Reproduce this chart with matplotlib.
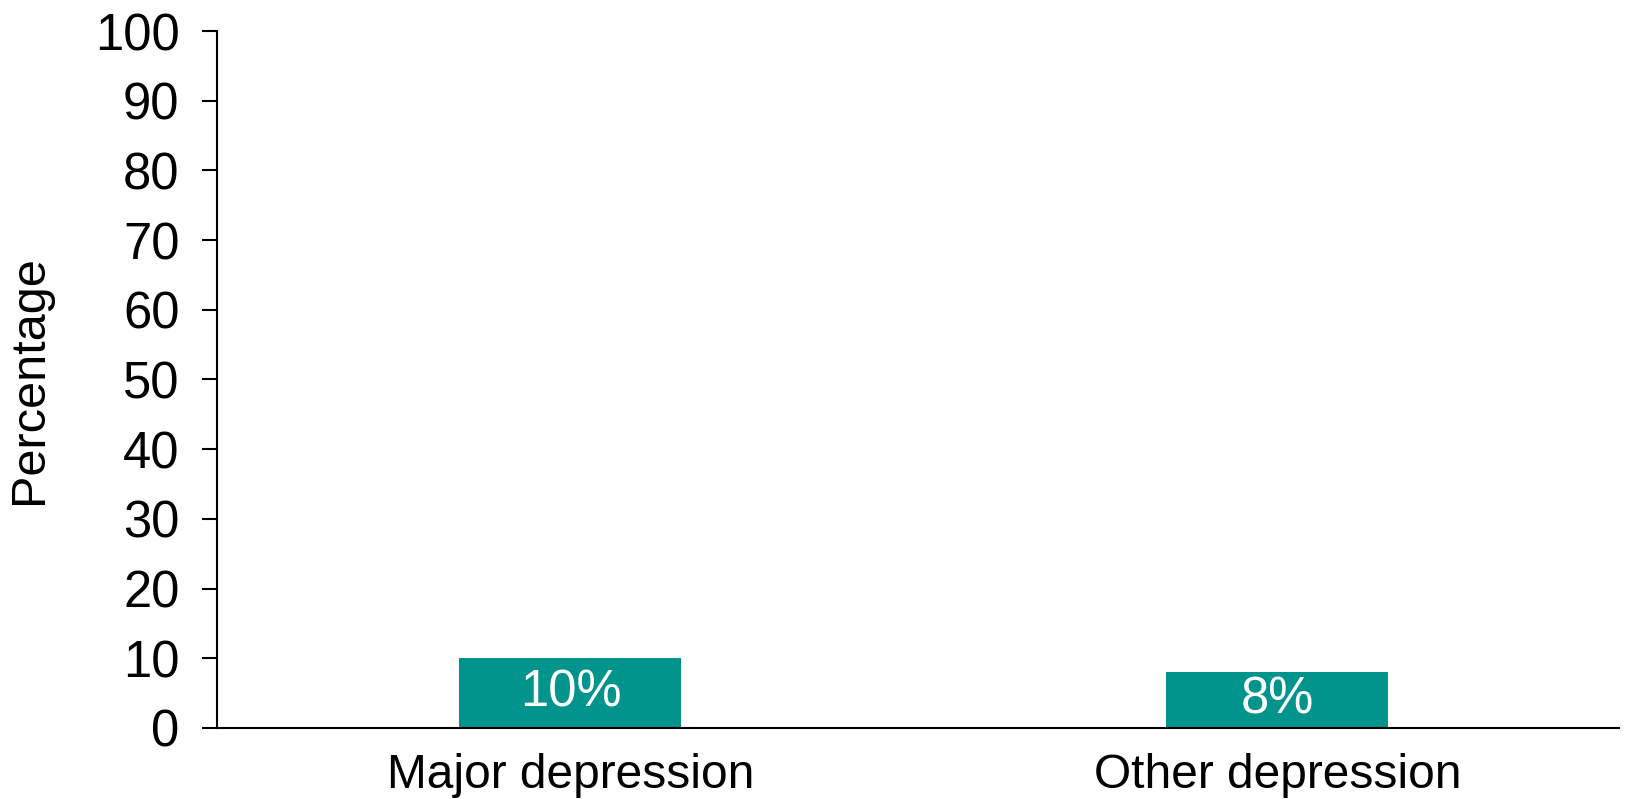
import matplotlib
matplotlib.use("Agg")
import matplotlib.pyplot as plt

categories = ["Major depression", "Other depression"]
values = [10, 8]
bar_labels = ["10%", "8%"]
yticks = list(range(0, 101, 10))

plt.rcParams['font.family'] = ['Liberation Sans', 'DejaVu Sans']

fig = plt.figure(figsize=(16.34, 7.99), dpi=100)
ax = fig.add_axes([0.1328, 0.0889, 0.858, 0.8723])

x = list(range(len(categories)))
bars = ax.bar(x, values, width=0.314, color="#00948D")
for b, lab in zip(bars, bar_labels):
    ax.text(b.get_x() + b.get_width() / 2, b.get_height() / 2, lab,
            ha="center", va="center", color="white", fontsize=36.5)

ax.set_xlim(-0.5, 1.483)
ax.set_ylim(0, 100)
ax.set_yticks(yticks)
ax.set_xticks(x)
ax.set_xticklabels(categories)
ax.tick_params(axis="y", labelsize=36.5, length=11, width=1.5, pad=16)
ax.tick_params(axis="x", labelsize=34.5, length=0, pad=18)
ax.set_ylabel("Percentage", fontsize=35)
ax.yaxis.set_label_coords(-0.118, 0.5)

for s in ["top", "right"]:
    ax.spines[s].set_visible(False)
ax.spines["left"].set_linewidth(1.5)
ax.spines["bottom"].set_linewidth(1.5)

fig.savefig("out.png", dpi=100)
